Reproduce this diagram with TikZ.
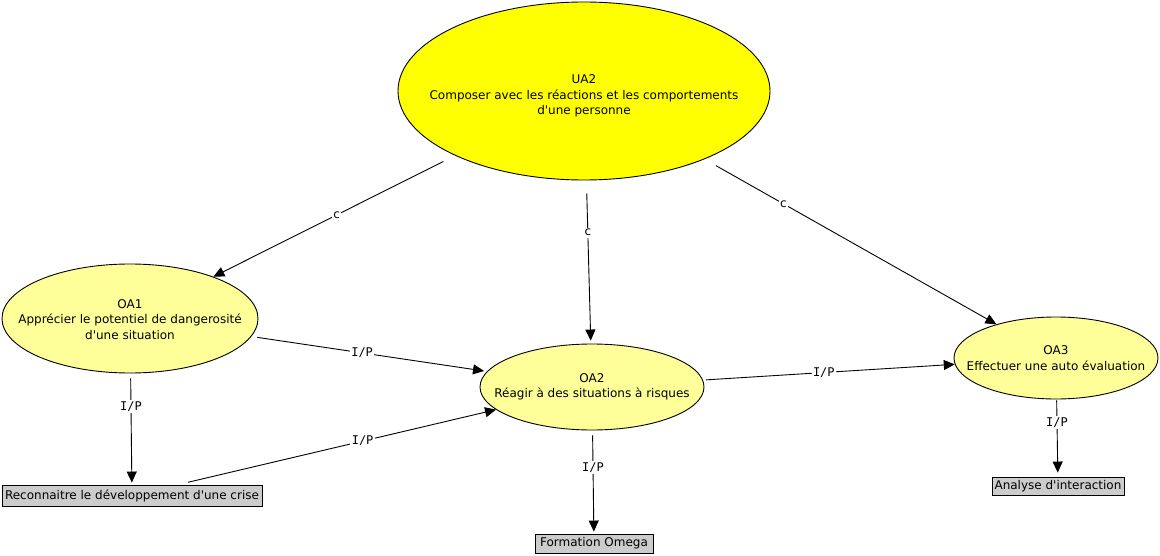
\documentclass[tikz,border=0pt]{standalone}
\usepackage{fontspec}
\setmainfont{DejaVu Sans}[Ligatures=TeXOff]
\newfontfamily\lblfont{DejaVu Sans Mono}[Ligatures=TeXOff]
\usetikzlibrary{shapes.geometric,arrows.meta}
\definecolor{strongyellow}{RGB}{255,255,0}
\definecolor{paleyellow}{RGB}{255,255,153}
\definecolor{boxgray}{RGB}{204,204,204}
\begin{document}
\begin{tikzpicture}[x=1pt,y=-1pt,
  every node/.style={font=\fontsize{12}{15.5}\selectfont},
  ell/.style={ellipse,draw,line width=0.9pt,inner sep=0pt,fill=paleyellow},
  txt/.style={align=center,inner sep=0pt},
  resbox/.style={rectangle,draw,line width=0.9pt,fill=boxgray,inner sep=2pt,minimum height=#1},
  conn/.style={draw,line width=0.9pt,-{Triangle[length=11pt,width=10pt]}},
  lblc/.style={fill=white,inner sep=1.5pt},
  lblip/.style={fill=white,inner sep=1.5pt,font=\lblfont\fontsize{12}{14}\selectfont}]
\fill[white] (0,0) rectangle (1160,556);
\useasboundingbox (0,0) rectangle (1160,556);

% nodes
\node[ell,fill=strongyellow,minimum width=372pt,minimum height=178pt] (ua2) at (584,91) {};
\node[txt] (ua2t) at (584,96) {UA2\\Composer avec les réactions et les comportements\\d'une personne};

\node[ell,minimum width=256pt,minimum height=109pt] (oa1) at (130,318.5) {};
\node[txt] (oa1t) at (130,319.5) {OA1\\Apprécier le potentiel de dangerosité\\d'une situation};

\node[ell,minimum width=224pt,minimum height=86pt] (oa2) at (592,387) {};
\node[txt] (oa2t) at (oa2) {OA2\\Réagir à des situations à risques};

\node[ell,minimum width=204pt,minimum height=82pt] (oa3) at (1056,358) {};
\node[txt] (oa3t) at (oa3) {OA3\\Effectuer une auto évaluation};

\node[resbox=21pt,minimum width=260pt] (crise) at (132,495.5) {Reconnaitre le développement d'une crise};
\node[resbox=19pt,minimum width=118pt] (omega) at (594,543.5) {Formation Omega};
\node[resbox=18pt,minimum width=132pt] (analyse) at (1058,486) {Analyse d'interaction};

% connectors
\draw[conn,shorten <=13pt] (ua2) -- node[lblc,pos=0.49] (c1) {c} (oa1);
\draw[conn,shorten <=13pt,shorten >=3pt] (ua2) -- node[lblc,pos=0.32] (c2) {c} (oa2);
\draw[conn,shorten <=13pt] (ua2) -- node[lblc,pos=0.27] (c3) {c} (oa3);
\draw[conn,shorten <=6pt,shorten >=3pt] (oa1) -- node[lblip,pos=0.47] (ip1) {I/P} (oa2);
\draw[conn,shorten <=5pt,shorten >=2pt] (oa1) -- node[lblip,pos=0.30] (ip2) {I/P} (crise);
\draw[conn,shorten <=10pt] (crise) -- node[lblip,pos=0.58] (ip3) {I/P} (oa2);
\draw[conn,shorten <=3pt] (oa2) -- node[lblip,pos=0.48] (ip4) {I/P} (oa3);
\draw[conn,shorten <=5pt,shorten >=2pt] (oa2) -- node[lblip,pos=0.36] (ip5) {I/P} (omega);
\draw[conn,shorten <=1pt,shorten >=4pt] (oa3) -- node[lblip,pos=0.30] (ip6) {I/P} (analyse);
\end{tikzpicture}
\end{document}
